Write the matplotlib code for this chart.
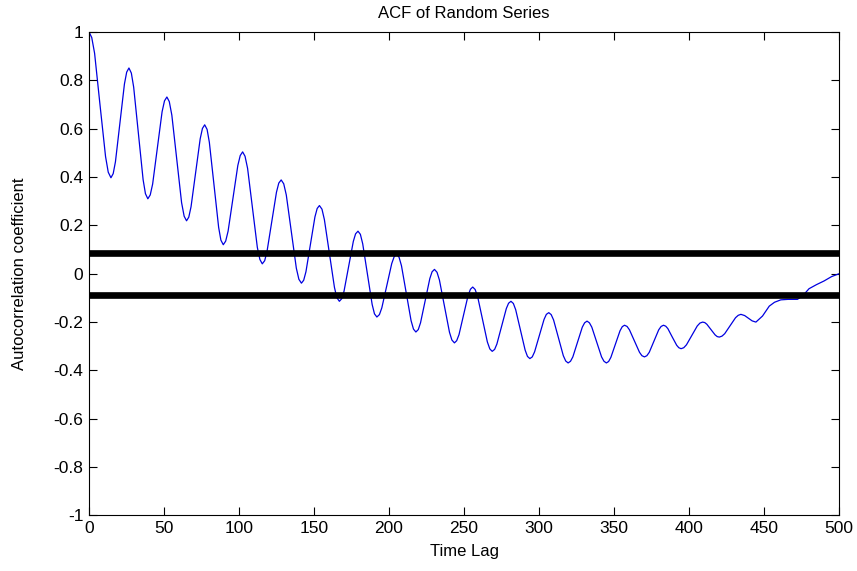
import matplotlib
matplotlib.use("Agg")
from matplotlib import pyplot as plt

plt.rcParams['font.family'] = ['Liberation Sans', 'DejaVu Sans']

# lag values and autocorrelation (one row per half swing)
lags = [0, 1.8, 3.7, 7.3, 11.0, 12.8,
        14.6, 16.1, 17.6, 20.6, 23.6, 25.1,
        26.6, 28.2, 29.75, 32.9, 36.05, 37.6,
        39.2, 40.8, 42.4, 45.55, 48.7, 50.3,
        51.9, 53.5, 55.2, 58.45, 61.7, 63.4,
        65.0, 66.5, 68.0, 71.05, 74.1, 75.6,
        77.1, 78.7, 80.2, 83.3, 86.4, 87.9,
        89.5, 91.1, 92.7, 95.95, 99.2, 100.8,
        102.4, 104.0, 105.7, 108.95, 112.2, 113.9,
        115.5, 117.1, 118.65, 121.8, 124.95, 126.5,
        128.1, 129.8, 131.5, 134.85, 138.2, 139.9,
        141.6, 143.1, 144.6, 147.6, 150.6, 152.1,
        153.6, 155.3, 156.9, 160.25, 163.6, 165.2,
        166.9, 168.5, 170.0, 173.1, 176.2, 177.7,
        179.3, 180.9, 182.45, 185.6, 188.75, 190.3,
        191.9, 193.6, 195.2, 198.5, 201.8, 203.4,
        205.1, 206.7, 208.3, 211.5, 214.7, 216.3,
        217.9, 219.5, 221.0, 224.1, 227.2, 228.7,
        230.3, 232.0, 233.6, 236.95, 240.3, 241.9,
        243.6, 245.1, 246.65, 249.7, 252.75, 254.3,
        255.8, 257.4, 259.05, 262.3, 265.55, 267.2,
        268.8, 270.4, 271.9, 275.05, 278.2, 279.7,
        281.3, 282.9, 284.45, 287.6, 290.75, 292.3,
        293.9, 295.5, 297.05, 300.2, 303.35, 304.9,
        306.5, 308.1, 309.7, 312.95, 316.2, 317.8,
        319.4, 321.0, 322.55, 325.7, 328.85, 330.4,
        332.0, 333.6, 335.2, 338.45, 341.7, 343.3,
        344.9, 346.4, 347.9, 350.95, 354.0, 355.5,
        357.0, 358.7, 360.3, 363.65, 367.0, 368.6,
        370.3, 371.9, 373.5, 376.65, 379.8, 381.4,
        383.0, 384.5, 385.9, 388.85, 391.8, 393.2,
        394.7, 396.5, 398.3, 401.9, 405.5, 407.3,
        409.1, 410.5, 411.9, 414.65, 417.4, 418.8,
        420.2, 422.0, 423.8, 427.4, 431.0, 432.8,
        434.6, 437.1, 439.6, 442.1,
        444.6, 449.0, 453.5, 457.0, 461.2, 466.0, 472.3, 476.0, 480.0, 485.0, 490.0, 495.0, 500.0]
acf = [1.0, 0.977, 0.912, 0.699, 0.485, 0.420,
       0.397, 0.414, 0.463, 0.624, 0.785, 0.834,
       0.851, 0.830, 0.772, 0.581, 0.389, 0.331,
       0.31, 0.326, 0.371, 0.521, 0.670, 0.715,
       0.731, 0.712, 0.656, 0.475, 0.294, 0.238,
       0.219, 0.234, 0.277, 0.418, 0.558, 0.601,
       0.616, 0.597, 0.544, 0.368, 0.192, 0.139,
       0.12, 0.135, 0.176, 0.312, 0.448, 0.489,
       0.504, 0.486, 0.436, 0.273, 0.109, 0.059,
       0.041, 0.054, 0.092, 0.215, 0.337, 0.375,
       0.388, 0.372, 0.326, 0.175, 0.023, -0.023,
       -0.039, -0.027, 0.008, 0.122, 0.235, 0.270,
       0.282, 0.267, 0.224, 0.084, -0.056, -0.099,
       -0.114, -0.103, -0.072, 0.031, 0.134, 0.165,
       0.176, 0.163, 0.124, -0.002, -0.127, -0.166,
       -0.179, -0.169, -0.141, -0.050, 0.042, 0.070,
       0.08, 0.068, 0.033, -0.081, -0.194, -0.229,
       -0.241, -0.231, -0.203, -0.112, -0.020, 0.008,
       0.018, 0.006, -0.026, -0.134, -0.242, -0.274,
       -0.286, -0.277, -0.252, -0.171, -0.089, -0.064,
       -0.055, -0.065, -0.094, -0.188, -0.282, -0.311,
       -0.321, -0.313, -0.291, -0.218, -0.144, -0.122,
       -0.114, -0.123, -0.149, -0.233, -0.316, -0.342,
       -0.351, -0.344, -0.323, -0.256, -0.189, -0.168,
       -0.161, -0.169, -0.191, -0.265, -0.339, -0.361,
       -0.369, -0.362, -0.344, -0.283, -0.221, -0.203,
       -0.196, -0.203, -0.221, -0.283, -0.344, -0.362,
       -0.369, -0.363, -0.346, -0.291, -0.236, -0.219,
       -0.213, -0.218, -0.232, -0.279, -0.325, -0.339,
       -0.344, -0.339, -0.325, -0.279, -0.232, -0.218,
       -0.213, -0.217, -0.227, -0.262, -0.296, -0.306,
       -0.31, -0.306, -0.294, -0.255, -0.216, -0.204,
       -0.2, -0.202, -0.209, -0.231, -0.253, -0.260,
       -0.262, -0.258, -0.248, -0.215, -0.182, -0.172,
       -0.168, -0.173, -0.184, -0.195,
       -0.2, -0.175, -0.134, -0.118, -0.108, -0.106, -0.106, -0.09, -0.062, -0.045, -0.03, -0.012, 0.0]

conf_bound = 0.087   # +/- significance lines
x_ticks = [0, 50, 100, 150, 200, 250, 300, 350, 400, 450, 500]
y_ticks = [-1, -0.8, -0.6, -0.4, -0.2, 0, 0.2, 0.4, 0.6, 0.8, 1]
y_labels = ["-1", "-0.8", "-0.6", "-0.4", "-0.2", "0", "0.2", "0.4", "0.6", "0.8", "1"]

fig = plt.figure(figsize=(8.57, 5.71), dpi=100)
ax = fig.add_axes([0.1039, 0.0972, 0.8751, 0.8468])

ax.plot(lags, acf, color='#0000e0', linewidth=0.9)
ax.plot([0, 500], [conf_bound, conf_bound], color='black', linewidth=4.8, solid_capstyle='butt')
ax.plot([0, 500], [-conf_bound, -conf_bound], color='black', linewidth=4.8, solid_capstyle='butt')

ax.set_xlim(0, 500)
ax.set_ylim(-1, 1)
ax.set_xticks(x_ticks)
ax.set_yticks(y_ticks)
ax.set_yticklabels(y_labels)
ax.tick_params(direction='in', length=6, width=0.8, top=True, right=True,
               labelsize=12.5, pad=4)
for s in ax.spines.values():
    s.set_linewidth(0.8)

ax.set_title("ACF of Random Series", fontsize=12, pad=10)
ax.set_xlabel("Time Lag", fontsize=12, labelpad=6)
ax.set_ylabel("Autocorrelation coefficient", fontsize=12, labelpad=19)

fig.savefig("out.png", dpi=100)
